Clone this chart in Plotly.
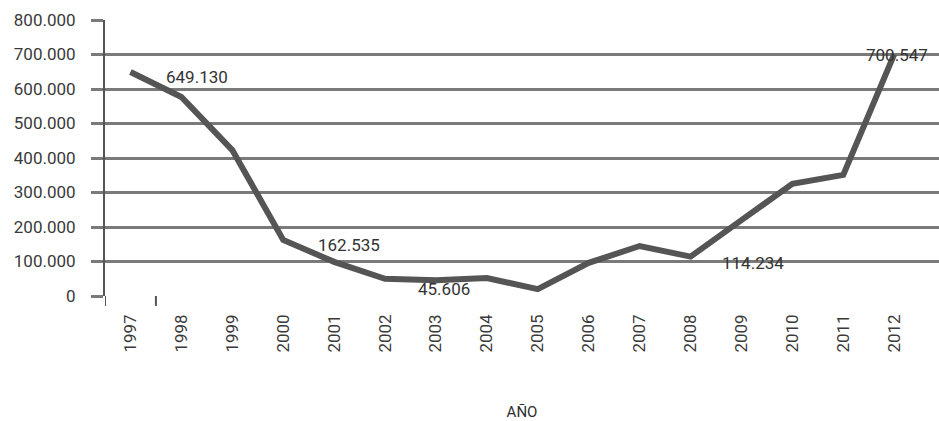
import plotly.graph_objects as go

years = [1997, 1998, 1999, 2000, 2001, 2002, 2003, 2004, 2005, 2006, 2007, 2008, 2009, 2010, 2011, 2012]
values = [649130, 577000, 423000, 162535, 99000, 50000, 45606, 52000, 20000, 96000, 145000, 114234, 220000, 325000, 351000, 700547]
label_years = [1997, 2000, 2003, 2008, 2012]
label_shifts = [(67, -5), (66, -5), (8, -9), (62, -6), (3, -1)]
y_ticks = [0, 100000, 200000, 300000, 400000, 500000, 600000, 700000, 800000]
x_title = "AÑO"

font_family = "Roboto, 'DejaVu Sans', sans-serif"
grid_col = "#7a7a7a"

fig = go.Figure()
fig.add_trace(go.Scatter(
    x=years, y=values, mode="lines",
    line=dict(color="#555555", width=6),
    hoverinfo="skip", showlegend=False,
))

def fmt(v):
    return f"{v:,}".replace(",", ".")

annotations = []
for yr, (dx, dy) in zip(label_years, label_shifts):
    v = values[years.index(yr)]
    annotations.append(dict(
        x=yr, y=v, xref="x", yref="y", text=fmt(v), showarrow=False,
        xanchor="center", yanchor="middle", xshift=dx, yshift=dy,
        font=dict(family=font_family, size=17, color="#333333"),
    ))

shapes = [
    # y-axis line extension below zero
    dict(type="line", xref="x", yref="paper", x0=1996.5, x1=1996.5, y0=0, y1=-0.036,
         line=dict(color="#555555", width=2)),
    # single category tick
    dict(type="line", xref="x", yref="paper", x0=1997.5, x1=1997.5, y0=0, y1=-0.036,
         line=dict(color="#555555", width=2)),
]

fig.update_layout(
    width=939, height=421,
    margin=dict(l=105, r=0, t=20, b=125),
    paper_bgcolor="white", plot_bgcolor="white",
    separators=",.",
    font=dict(family=font_family, color="#3a3a3a"),
    annotations=annotations,
    shapes=shapes,
    xaxis=dict(
        range=[1996.5, 2012.88],
        tickmode="array", tickvals=years, ticktext=[str(y) for y in years],
        tickangle=-90, tickfont=dict(size=17, color="#3a3a3a"),
        ticklabelstandoff=14,
        showgrid=False, zeroline=False, showline=False, ticks="",
        title=dict(text=x_title, font=dict(size=15, color="#2e2e2e"), standoff=55),
    ),
    yaxis=dict(
        range=[0, 800000],
        tickmode="array", tickvals=y_ticks,
        tickformat=",d",
        tickfont=dict(size=17, color="#3a3a3a"),
        showgrid=True, gridcolor=grid_col, gridwidth=2.5,
        zeroline=False,
        showline=True, linecolor="#555555", linewidth=2,
        ticks="outside", ticklen=12, tickwidth=2.5, tickcolor=grid_col,
        ticklabelstandoff=12,
    ),
)

fig.write_html("out.html")
